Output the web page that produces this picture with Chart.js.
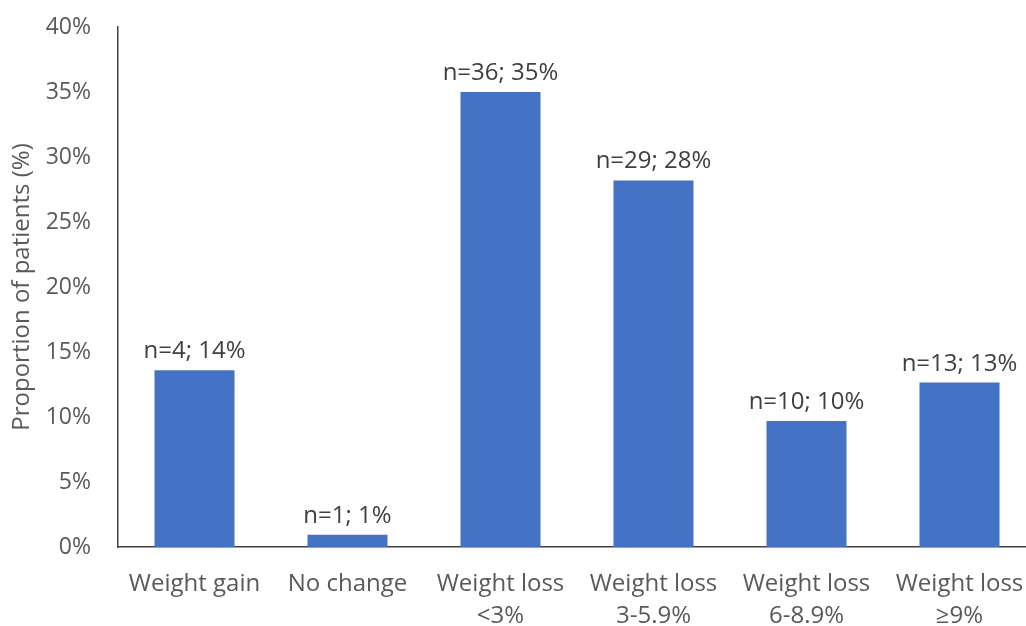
<!DOCTYPE html>
<html>
<head>
<meta charset="utf-8">
<script src="https://cdn.jsdelivr.net/npm/chart.js@4"></script>
<style>
  html, body { margin: 0; padding: 0; background: #fff; overflow: hidden; }
  /* the original plot runs a little past the right edge, so the canvas is wider and clipped */
  #wrap { width: 1026px; height: 626px; overflow: hidden; }
</style>
</head>
<body>
<div id="wrap"><canvas id="chart" width="1036" height="626"></canvas></div>
<script>
const categories = [
	"Weight gain",
	"No change",
	["Weight loss", "<3%"],
	["Weight loss", "3-5.9%"],
	["Weight loss", "6-8.9%"],
	["Weight loss", "≥9%"]
];
const proportions = [13.6, 0.95, 35, 28.2, 9.7, 12.65];
const patientCounts = [4, 1, 36, 29, 10, 13];
const roundedPct = [14, 1, 35, 28, 10, 13];
const yTicks = [0, 5, 10, 15, 20, 25, 30, 35, 40];

const textColor = "#595959";
const fontFamily = "'Open Sans', sans-serif";

// labels like "n=36; 35%" above each bar
const barLabels = {
	id: "barLabels",
	afterDatasetsDraw(chart) {
		const ctx = chart.ctx;
		const meta = chart.getDatasetMeta(0);
		ctx.save();
		ctx.font = "24px " + fontFamily;
		ctx.fillStyle = "#404040";
		ctx.textAlign = "center";
		ctx.textBaseline = "alphabetic";
		meta.data.forEach((bar, i) => {
			ctx.fillText("n=" + patientCounts[i] + "; " + roundedPct[i] + "%", bar.x, bar.y - 12);
		});
		ctx.restore();
	}
};

new Chart(document.getElementById("chart"), {
	type: "bar",
	data: {
		labels: categories,
		datasets: [{
			data: proportions,
			backgroundColor: "#4472C4",
			borderWidth: 0,
			barPercentage: 0.523,
			categoryPercentage: 1
		}]
	},
	options: {
		responsive: false,
		animation: false,
		layout: { padding: { top: 27, right: 0, left: 0, bottom: 0 } },
		plugins: {
			legend: { display: false },
			tooltip: { enabled: false }
		},
		scales: {
			x: {
				// tick marks hidden, tickLength used as the gap instead of ticks.padding
				grid: { display: false, drawTicks: true, tickLength: 22, color: "rgba(0,0,0,0)" },
				border: { display: true, color: "#404040", width: 1.5 },
				ticks: {
					color: textColor,
					font: { size: 24, family: fontFamily, lineHeight: 1.3 },
					padding: 0,
					maxRotation: 0
				},
				afterFit: (scale) => { scale.height = 79; }
			},
			y: {
				min: 0,
				max: 40,
				afterBuildTicks: (scale) => { scale.ticks = yTicks.map(v => ({ value: v })); },
				grid: { display: false, drawTicks: true, tickLength: 27, color: "rgba(0,0,0,0)" },
				border: { display: true, color: "#404040", width: 1.5 },
				ticks: {
					color: textColor,
					font: { size: 23, family: fontFamily },
					padding: 0,
					callback: (v) => v + "%"
				},
				title: {
					display: true,
					text: "Proportion of patients (%)",
					color: textColor,
					font: { size: 24, family: fontFamily },
					padding: { top: 8, bottom: 0 }
				},
				afterFit: (scale) => { scale.width = 118; }
			}
		}
	},
	plugins: [barLabels]
});
</script>
</body>
</html>
